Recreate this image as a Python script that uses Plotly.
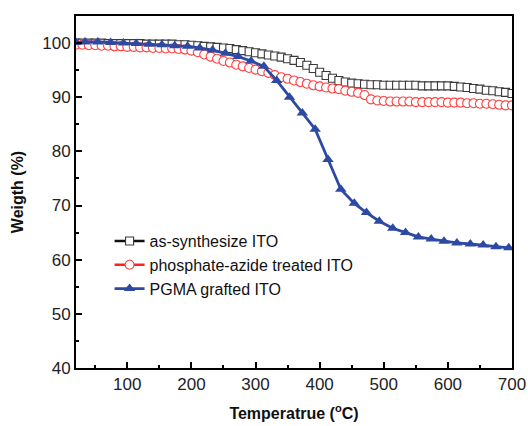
import plotly.graph_objects as go

temp_sq = list(range(20, 701, 10))
as_synth = [100.0, 100.0, 100.0, 100.0, 100.0, 99.9, 99.9, 99.9, 99.9, 99.9,
            99.9, 99.8, 99.8, 99.8, 99.8, 99.8, 99.7, 99.7, 99.6, 99.5,
            99.4, 99.3, 99.2, 99.1, 99.0, 98.8, 98.6, 98.4, 98.2, 98.0,
            97.8, 97.6, 97.4, 97.1, 96.8, 96.4, 95.9, 95.3, 94.6, 94.0,
            93.5, 93.1, 92.8, 92.6, 92.5, 92.4, 92.3, 92.3, 92.2, 92.2,
            92.2, 92.2, 92.2, 92.2, 92.1, 92.1, 92.1, 92.1, 92.1, 92.0,
            91.9, 91.8, 91.6, 91.5, 91.3, 91.2, 91.0, 90.9, 90.7]

temp_ci = list(range(20, 701, 10))
phos_azide = [99.7, 99.7, 99.6, 99.6, 99.5, 99.5, 99.4, 99.4, 99.3, 99.3,
              99.2, 99.2, 99.1, 99.1, 99.0, 99.0, 98.9, 98.8, 98.6, 98.3,
              97.9, 97.5, 97.1, 96.7, 96.4, 96.0, 95.7, 95.4, 95.1, 94.8,
              94.5, 94.1, 93.7, 93.4, 93.1, 92.8, 92.5, 92.2, 92.0, 91.8,
              91.6, 91.5, 91.2, 91.0, 90.8, 90.4, 89.6, 89.4, 89.3, 89.2,
              89.2, 89.2, 89.2, 89.1, 89.1, 89.1, 89.1, 89.1, 89.0, 89.0,
              89.0, 88.9, 88.9, 88.8, 88.8, 88.7, 88.6, 88.5, 88.5]

temp_tri = [20, 34, 54, 74, 94, 114, 134, 154, 174, 194, 213, 233, 253, 273,
            293, 313, 333, 353, 373, 393, 413, 433, 454, 473, 493, 514, 534,
            554, 574, 594, 614, 635, 655, 675, 695]
pgma = [100.1, 100.2, 100.2, 100.1, 100.0, 99.9, 99.8, 99.7, 99.5, 99.4,
        99.1, 98.7, 98.1, 97.5, 96.7, 95.7, 93.1, 90.0, 87.1, 84.1, 78.5,
        73.0, 70.4, 68.7, 67.1, 65.8, 65.0, 64.2, 63.8, 63.4, 63.1, 62.9,
        62.7, 62.4, 62.2]

names = ["as-synthesize ITO", "phosphate-azide treated ITO", "PGMA grafted ITO"]

fig = go.Figure()
fig.add_trace(go.Scatter(
    x=temp_sq, y=as_synth, name=names[0], mode="lines+markers",
    line=dict(color="#111111", width=2.5),
    marker=dict(symbol="square", size=8, color="white",
                line=dict(color="#3a3a3a", width=1.1))))
fig.add_trace(go.Scatter(
    x=temp_ci, y=phos_azide, name=names[1], mode="lines+markers",
    line=dict(color="#ff2020", width=2.5),
    marker=dict(symbol="circle", size=9, color="white",
                line=dict(color="#ff4040", width=1.1))))
fig.add_trace(go.Scatter(
    x=temp_tri, y=pgma, name=names[2], mode="lines+markers",
    line=dict(color="#2c4aa3", width=2.8),
    marker=dict(symbol="triangle-up", size=10, color="#2c4aa3")))

axis_common = dict(
    showline=True, linecolor="black", linewidth=2, mirror=True,
    ticks="inside", ticklen=6, tickwidth=2, tickcolor="black",
    showgrid=False, zeroline=False, automargin=False,
    tickfont=dict(family="Liberation Sans, Arial", size=17, color="#222222"),
)

fig.update_xaxes(range=[20, 700], tick0=0, dtick=100,
                 minor=dict(ticks="inside", ticklen=3, tickwidth=2,
                            dtick=50, tick0=0, tickcolor="black"),
                 title=dict(text="<b>Temperatrue (<sup>o</sup>C)</b>",
                            font=dict(family="Liberation Sans, Arial", size=16, color="#111111"),
                            standoff=14),
                 **axis_common)
fig.update_yaxes(range=[40, 105], tick0=40, dtick=10,
                 minor=dict(ticks="inside", ticklen=3, tickwidth=2,
                            dtick=5, tick0=40, tickcolor="black"),
                 title=dict(text="<b>Weigth (%)</b>",
                            font=dict(family="Liberation Sans, Arial", size=16, color="#111111"),
                            standoff=15),
                 **axis_common)

fig.update_layout(
    width=528, height=426,
    margin=dict(l=76, r=16, t=16, b=58),
    paper_bgcolor="white", plot_bgcolor="white",
    showlegend=True,
    legend=dict(x=0.077, y=0.409, xanchor="left", yanchor="top",
                bgcolor="rgba(0,0,0,0)", borderwidth=0,
                font=dict(family="Liberation Sans, Arial", size=16, color="#111111"),
                itemwidth=30, tracegroupgap=0),
)

fig.write_html("out.html", config={"displayModeBar": False},
               post_script="document.body.style.margin='0';document.body.style.overflow='hidden';")
